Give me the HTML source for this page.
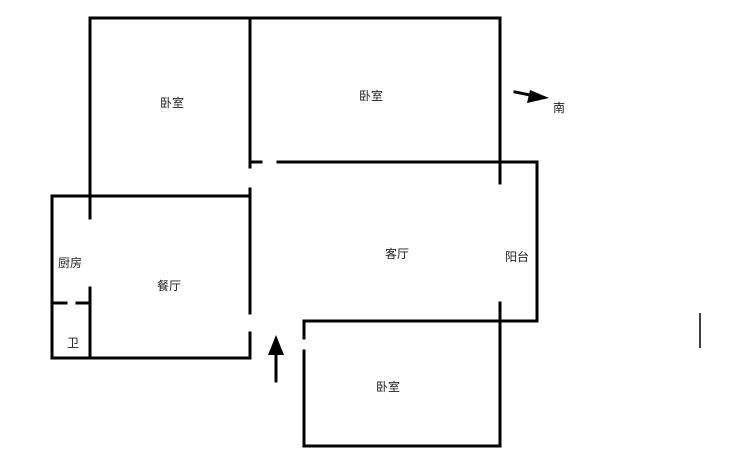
<!DOCTYPE html>
<html><head><meta charset="utf-8"><style>
html,body{margin:0;padding:0;background:#fff;}
svg text{font-family:"Liberation Sans","Noto Sans CJK SC",sans-serif;font-size:12px;fill:#222;}
</style></head><body>
<svg width="729" height="465" viewBox="0 0 729 465" xmlns="http://www.w3.org/2000/svg">
<g stroke="#000" stroke-width="3" fill="none" stroke-linecap="square">
<line x1="90" y1="18" x2="500" y2="18"/>
<line x1="90" y1="18" x2="90" y2="218"/>
<line x1="90" y1="288" x2="90" y2="358"/>
<line x1="250" y1="18" x2="250" y2="167"/>
<line x1="250" y1="162" x2="261" y2="162"/>
<line x1="278" y1="162" x2="537" y2="162"/>
<line x1="500" y1="18" x2="500" y2="183"/>
<line x1="537" y1="162" x2="537" y2="321"/>
<line x1="304" y1="321" x2="537" y2="321"/>
<line x1="500" y1="303" x2="500" y2="446"/>
<line x1="304" y1="321" x2="304" y2="338"/>
<line x1="304" y1="351" x2="304" y2="446"/>
<line x1="304" y1="446" x2="500" y2="446"/>
<line x1="52" y1="196" x2="250" y2="196"/>
<line x1="52" y1="196" x2="52" y2="358"/>
<line x1="52" y1="358" x2="250" y2="358"/>
<line x1="250" y1="189" x2="250" y2="313"/>
<line x1="250" y1="333" x2="250" y2="358"/>
<line x1="53" y1="303" x2="66" y2="303"/>
<line x1="77" y1="303" x2="89" y2="303"/>
<line x1="276" y1="350" x2="276" y2="381"/>
<line x1="515" y1="92" x2="535" y2="96"/>
</g>
<line x1="700" y1="313" x2="700" y2="348" stroke="#000" stroke-width="1.5"/>
<polygon points="276,335 268,355 284,355" fill="#000"/>
<polygon points="549,98 530,90 527,103" fill="#000"/>
<text x="160" y="107">卧室</text>
<text x="359" y="100">卧室</text>
<text x="58" y="267">厨房</text>
<text x="157" y="290">餐厅</text>
<text x="385" y="258">客厅</text>
<text x="505" y="261">阳台</text>
<text x="67" y="347">卫</text>
<text x="376" y="391">卧室</text>
<text x="553" y="112">南</text>
</svg>
</body></html>
